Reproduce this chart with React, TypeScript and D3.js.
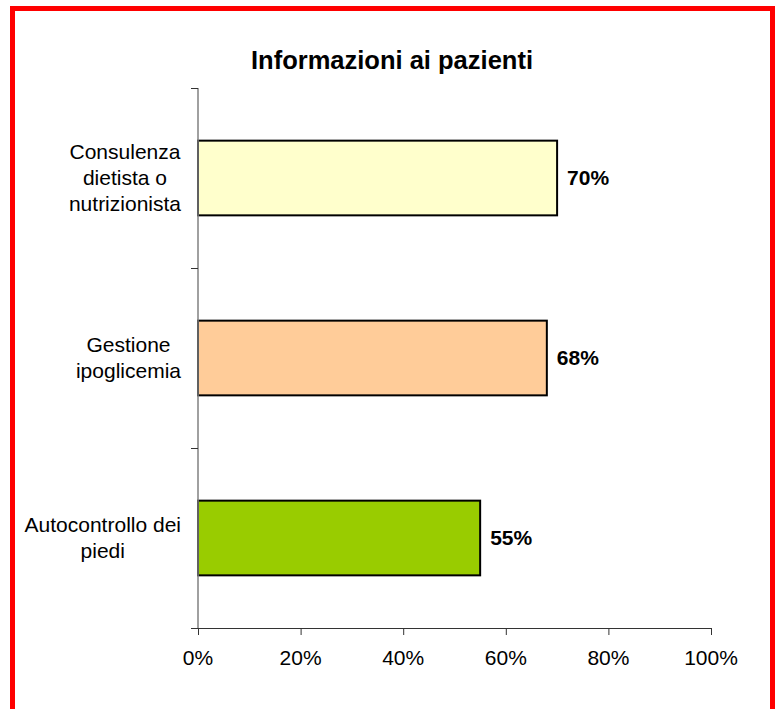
import { useRef, useEffect } from "react";
import * as d3 from "d3";

const categories = [
  ["Consulenza", "dietista o", "nutrizionista"],
  ["Gestione", "ipoglicemia"],
  ["Autocontrollo dei", "piedi"],
];
const values = [0.7, 0.68, 0.55];
const colors = ["#FFFFCC", "#FFCC99", "#99CC00"];
const xTicks = [0, 0.2, 0.4, 0.6, 0.8, 1];

function App() {
  const svgRef = useRef<SVGSVGElement>(null);

  useEffect(() => {
    const w = 775;
    const h = 709;
    const svg = d3.select(svgRef.current).attr("width", w).attr("height", h);
    svg.selectAll("*").remove();

    const font = "Arial, 'Liberation Sans', sans-serif";

    // frame
    svg
      .append("rect")
      .attr("x", 12.5)
      .attr("y", 8.5)
      .attr("width", 760)
      .attr("height", 720)
      .attr("fill", "white")
      .attr("stroke", "#FF0000")
      .attr("stroke-width", 5);

    svg
      .append("text")
      .text("Informazioni ai pazienti")
      .attr("x", 392)
      .attr("y", 69)
      .attr("text-anchor", "middle")
      .style("font-family", font)
      .style("font-weight", "bold")
      .style("font-size", "25.5px");

    const left = 198;
    const right = 711;
    const top = 88;
    const bottom = 628;

    const x = d3.scaleLinear().domain([0, 1]).range([left, right]);
    const y = d3
      .scaleBand()
      .domain(d3.range(categories.length).map(String))
      .range([top, bottom])
      .paddingInner(0.585)
      .paddingOuter(0.2925);

    // bars
    svg
      .selectAll(".bar")
      .data(values)
      .join("rect")
      .attr("x", x(0))
      .attr("y", (_, i) => y(String(i))!)
      .attr("width", (d) => x(d) - x(0))
      .attr("height", y.bandwidth())
      .attr("fill", (_, i) => colors[i])
      .attr("stroke", "black")
      .attr("stroke-width", 2);

    // value labels
    svg
      .selectAll(".val")
      .data(values)
      .join("text")
      .text((d) => d3.format(".0%")(d))
      .attr("x", (d) => x(d) + 10)
      .attr("y", (_, i) => y(String(i))! + y.bandwidth() / 2 + 7)
      .style("font-family", font)
      .style("font-weight", "bold")
      .style("font-size", "21px");

    // y axis
    svg
      .append("line")
      .attr("x1", left)
      .attr("x2", left)
      .attr("y1", top)
      .attr("y2", bottom)
      .attr("stroke", "#808080")
      .attr("stroke-width", 1.5);
    const yStep = (bottom - top) / categories.length;
    svg
      .selectAll(".ytick")
      .data(d3.range(categories.length + 1))
      .join("line")
      .attr("x1", left - 7)
      .attr("x2", left)
      .attr("y1", (i) => top + i * yStep + 0.5)
      .attr("y2", (i) => top + i * yStep + 0.5)
      .attr("stroke", "#333")
      .attr("stroke-width", 1);

    // category labels, centred block with right edge at 181
    const lineH = 26;
    svg
      .selectAll(".cat")
      .data(categories)
      .join("text")
      .attr("text-anchor", "middle")
      .style("font-family", font)
      .style("font-size", "21px")
      .each(function (lines, i) {
        const cy = y(String(i))! + y.bandwidth() / 2;
        const start = cy - ((lines.length - 1) * lineH) / 2 + 7;
        const t = d3.select(this);
        const spans = t
          .selectAll("tspan")
          .data(lines)
          .join("tspan")
          .attr("x", 0)
          .attr("y", (_, j) => start + j * lineH)
          .text((d) => d);
        let maxW = 0;
        spans.each(function () {
          maxW = Math.max(maxW, (this as SVGTSpanElement).getComputedTextLength());
        });
        spans.attr("x", 181 - maxW / 2);
      });

    // x axis
    svg
      .append("line")
      .attr("x1", left - 7)
      .attr("x2", right)
      .attr("y1", bottom + 0.5)
      .attr("y2", bottom + 0.5)
      .attr("stroke", "#333")
      .attr("stroke-width", 1);
    svg
      .selectAll(".xtick")
      .data(xTicks)
      .join("line")
      .attr("x1", (d) => x(d) + 0.5)
      .attr("x2", (d) => x(d) + 0.5)
      .attr("y1", bottom)
      .attr("y2", bottom + 7)
      .attr("stroke", "#333")
      .attr("stroke-width", 1);
    svg
      .selectAll(".xlab")
      .data(xTicks)
      .join("text")
      .text((d) => d3.format(".0%")(d))
      .attr("x", (d) => x(d))
      .attr("y", 665)
      .attr("text-anchor", "middle")
      .style("font-family", font)
      .style("font-size", "21px");
  }, []);

  return (
    <svg
      ref={svgRef}
      style={{ position: "absolute", left: 0, top: 0, display: "block" }}
    ></svg>
  );
}

export default App;
